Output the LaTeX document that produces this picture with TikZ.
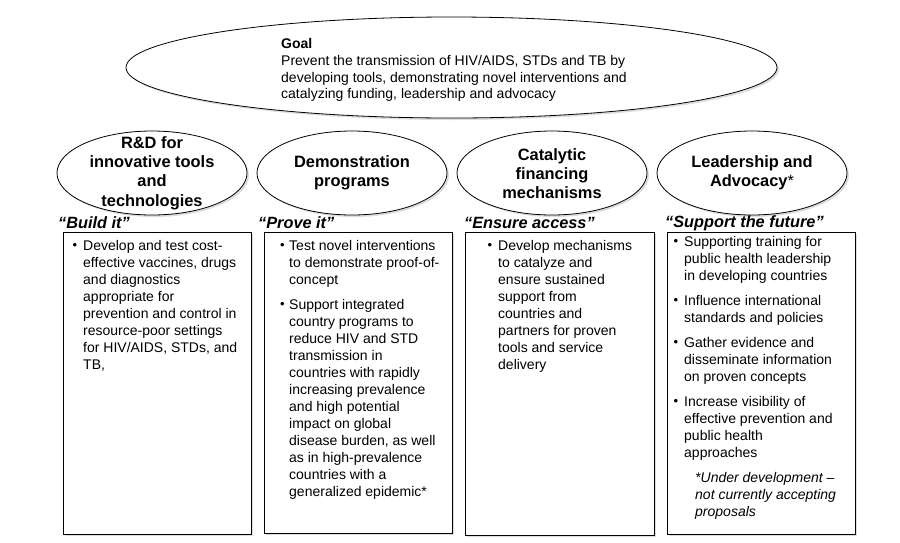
\documentclass[tikz,border=0pt]{standalone}
\usepackage{fontspec}
\setmainfont{Liberation Sans}
\usetikzlibrary{shapes.geometric,shadows}
\begin{document}
\begin{tikzpicture}[x=1pt,y=-1pt,
 shad/.style={drop shadow={shadow xshift=2pt,shadow yshift=-2pt,opacity=0.22,fill=black!60}},
 goalell/.style={draw,ellipse,line width=0.8pt,fill=white,shad,inner sep=0,minimum width=651pt,minimum height=101pt},
 pillar/.style={draw,ellipse,line width=0.8pt,fill=white,shad,inner sep=0,minimum width=190pt,minimum height=84pt},
 ptitle/.style={font=\fontsize{16.4}{19.3}\selectfont\bfseries,align=center,inner sep=0},
 motto/.style={font=\fontsize{16.3}{19}\selectfont\bfseries\itshape,anchor=west,inner sep=0},
 card/.style={draw,line width=0.8pt,fill=white,shad,inner sep=0,anchor=north west},
 bul/.style={font=\fontsize{13}{17}\selectfont,inner sep=0,anchor=center},
 para/.style={font=\fontsize{14}{17}\selectfont,align=left,inner sep=0,anchor=north west},
 note/.style={font=\fontsize{14}{17}\selectfont\itshape,align=left,inner sep=0,anchor=north west},
]
\useasboundingbox (0,0) rectangle (900,542);

% goal
\node[goalell] (goal) at (451.5,67.5) {};
\node[para, font=\fontsize{14}{16.6}\selectfont] (goaltxt) at (281,38.5) {\textbf{Goal}\\Prevent the transmission of HIV/AIDS, STDs and TB by\\developing tools, demonstrating novel interventions and\\catalyzing funding, leadership and advocacy};

% pillars
\node[pillar] (e1) at (152,173) {};
\node[pillar] (e2) at (352,173) {};
\node[pillar] (e3) at (552,173) {};
\node[pillar] (e4) at (752,173) {};
\node[ptitle] (e1t) at (152,173) {R\&D for\\innovative tools\\and\\technologies};
\node[ptitle] (e2t) at (352,172.5) {Demonstration\\programs};
\node[ptitle] (e3t) at (552,173.5) {Catalytic\\financing\\mechanisms};
\node[ptitle] (e4t) at (752,172.5) {Leadership and\\Advocacy\textmd{*}};

% mottos
\node[motto] (m1) at (58,223) {“Build it”};
\node[motto] (m2) at (258,223) {“Prove it”};
\node[motto] (m3) at (464,223) {“Ensure access”};
\node[motto] (m4) at (665,223) {“Support the future”};

% cards
\node[card, minimum width=188pt, minimum height=302pt] (b1) at (63,232) {};
\node[card, minimum width=188pt, minimum height=301pt] (b2) at (264,232) {};
\node[card, minimum width=189pt, minimum height=303pt] (b3) at (465,232) {};
\node[card, minimum width=188pt, minimum height=302pt] (b4) at (667,232) {};

% card 1
\node[bul] (b1a) at (75,246) {•};
\node[para] (b1at) at (83,240.5) {Develop and test cost-\\effective vaccines, drugs\\and diagnostics\\appropriate for\\prevention and control in\\resource-poor settings\\for HIV/AIDS, STDs, and\\TB,};

% card 2
\node[bul] (b2a) at (282.5,246) {•};
\node[para] (b2at) at (289,240.5) {Test novel interventions\\to demonstrate proof-of-\\concept};
\node[bul] (b2b) at (282.5,305) {•};
\node[para] (b2bt) at (289,299.5) {Support integrated\\country programs to\\reduce HIV and STD\\transmission in\\countries with rapidly\\increasing prevalence\\and high potential\\impact on global\\disease burden, as well\\as in high-prevalence\\countries with a\\generalized epidemic*};

% card 3
\node[bul] (b3a) at (490,246) {•};
\node[para] (b3at) at (498,240.5) {Develop mechanisms\\to catalyze and\\ensure sustained\\support from\\countries and\\partners for proven\\tools and service\\delivery};

% card 4
\node[bul] (b4a) at (676,242) {•};
\node[para] (b4at) at (684,236.5) {Supporting training for\\public health leadership\\in developing countries};
\node[bul] (b4b) at (676,301) {•};
\node[para] (b4bt) at (684,295.5) {Influence international\\standards and policies};
\node[bul] (b4c) at (676,343) {•};
\node[para] (b4ct) at (684,337.5) {Gather evidence and\\disseminate information\\on proven concepts};
\node[bul] (b4d) at (676,402) {•};
\node[para] (b4dt) at (684,396.5) {Increase visibility of\\effective prevention and\\public health\\approaches};
\node[note] (b4n) at (695,472.5) {*Under development –\\not currently accepting\\proposals};
\end{tikzpicture}
\end{document}
